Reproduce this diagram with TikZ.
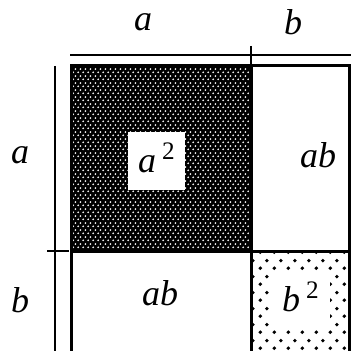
\documentclass[tikz,border=0pt]{standalone}
\usepackage{fontspec}
\setmainfont{Liberation Serif}
\usetikzlibrary{patterns}
% white dots on the black a^2 square
\pgfdeclarepatternformonly{finedots}{\pgfpointorigin}{\pgfpoint{2.4pt}{3.4pt}}%
  {\pgfpoint{2.4pt}{3.4pt}}{%
  \pgfpathcircle{\pgfpoint{0.6pt}{0.85pt}}{0.5pt}%
  \pgfpathcircle{\pgfpoint{1.8pt}{2.55pt}}{0.5pt}%
  \pgfusepath{fill}}
% sparse black dots round b^2
\pgfdeclarepatternformonly{sparsedots}{\pgfpointorigin}{\pgfpoint{6.75pt}{8pt}}%
  {\pgfpoint{6.75pt}{8pt}}{%
  \pgfpathcircle{\pgfpoint{1.7pt}{2pt}}{1pt}%
  \pgfpathcircle{\pgfpoint{5.07pt}{6pt}}{1pt}%
  \pgfusepath{fill}}
\newcommand{\sq}[1]{\textit{#1}\,\textsuperscript{\upshape 2}}
\tikzset{
  edge-line/.style={line width=1.5pt,line cap=rect},
  dim-line/.style={line width=1.3pt},
  lbl/.style={font=\fontsize{18}{20}\selectfont\itshape,inner sep=0pt},
}

\begin{document}
\begin{tikzpicture}[x=0.5pt,y=-0.5pt]
  \useasboundingbox (0,0) rectangle (351,351);
  \clip (0,0) rectangle (351,351);
  % squares
  \fill[black] (71,66) rectangle (251,251);
  \fill[pattern=finedots,pattern color=white] (73,68) rectangle (249,249);
  \fill[white] (128,132) rectangle (185,190);
  \fill[pattern=sparsedots,even odd rule] (252,252) rectangle (348,360)
    (270,273) rectangle (330,328);
  % outlines
  \draw[edge-line] (71,66) -- (349,66) -- (349,360);
  \draw[edge-line] (71,66) -- (71,360);
  \draw[edge-line] (251,66) -- (251,360);
  \draw[edge-line] (71,251) -- (349,251);
  % dimension lines
  \draw[dim-line] (70,55) -- (351,55);
  \draw[dim-line] (251,46) -- (251,68);
  \draw[dim-line] (55,66) -- (55,351);
  \draw[dim-line] (47,251) -- (69,251);
  % labels
  \node[lbl] (top-a) at (143,22) {a};
  \node[lbl] (top-b) at (293,22) {b};
  \node[lbl] (left-a) at (20,155) {a};
  \node[lbl] (left-b) at (20,300) {b};
  \node[lbl] (sq-a) at (157,158) {\sq{a}};
  \node[lbl] (ab-right) at (318,155) {ab};
  \node[lbl] (ab-bottom) at (160,293) {ab};
  \node[lbl] (sq-b) at (301,297) {\sq{b}};
\end{tikzpicture}
\end{document}
